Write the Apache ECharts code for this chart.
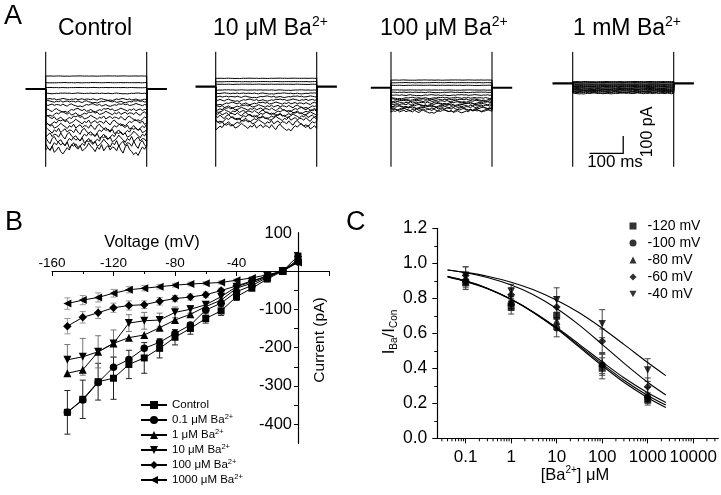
<!DOCTYPE html>
<html><head><meta charset="utf-8">
<script src="https://cdn.jsdelivr.net/npm/echarts@6/dist/echarts.min.js"></script>
<style>html,body{margin:0;padding:0;background:#fff}#c{width:721px;height:495px}</style>
</head><body><div id="c"></div>
<script>
// ===== Panel A: whole-cell current traces (pA) =====
const levelsControl = [74, 36, 8, -25, -59, -72, -91, -120, -140, -165, -190, -215, -240, -265, -290, -315, -340];
const levels10uM = [48, 29, 14, -19, -38, -57, -76, -95, -112, -128, -142, -156, -170, -185, -205, -228];
const levels100uM = [44, 29, 14, -13, -26, -42, -58, -67, -76, -85, -94, -102, -110, -118, -126, -134];
const levels1mM = [10, 6, 2, -4, -8, -13, -18, -22, -27, -31, -35, -39, -43, -47, -52, -57];
const traceWobble = [0.1,-0.3,0.4,-0.2,-0.6,0.2,0.5,-0.1,-0.4,-0.8,-0.5,-0.9,-0.3,0.2,-0.1,0.4,0.6,0.1,-0.2,0.3,-0.5,-0.2,0.2,-0.4,-0.7,-0.3,0.1,-0.2,0.5,0.3,0.6,0.1,0.4,-0.3,-0.1,0.2,0.7,0.3,0.0,-0.4,0.2,-0.1,0.5,-0.3,0.1,0.4,-0.2,0.2];
const noiseFraction = [0.13, 0.12, 0.1, 0.07];
const transientPeaks = [[213, -444], [200, -457], [206, -451], [181, -476]];
const pulseMs = [0, 300];
const holdMs = [-60, 360];
const scaleBar = [[50, -400], [150, -400], [150, -300]];

// ===== Panel B: I-V relationships =====
const voltage = [-150,-140,-130,-120,-110,-100,-90,-80,-70,-60,-50,-40,-30,-20,-10,0];
const iControl = [-369,-335,-289,-280,-244,-227,-202,-173,-150,-124,-104,-67,-45,-21,0,39];
const i01uM   = [-369,-337,-291,-251,-231,-202,-186,-163,-141,-102,-84,-54,-38,-17,0,24];
const i1uM    = [-267,-258,-211,-189,-174,-167,-148,-128,-113,-93,-76,-45,-32,-15,0,29];
const i10uM   = [-232,-224,-211,-189,-136,-130,-128,-108,-100,-88,-67,-41,-28,-13,0,29];
const i100uM  = [-144,-121,-109,-96,-90,-88,-79,-72,-68,-62,-51,-39,-26,-13,0,24];
const i1000uM = [-85,-76,-69,-58,-49,-45,-41,-37,-34,-32,-30,-24,-18,-10,0,22];
const errControl = [57,50,48,55,37,40,25,20,15,12,12,10,5,3,2,3];
const err10uM    = [40,48,42,35,22,22,18,14,10,8,6,5,4,3,2,2];
const err100uM   = [20,15,15,12,12,10,10,8,8,7,6,5,4,3,2,2];
const err1000uM  = [15,12,12,10,8,7,6,5,5,4,4,3,3,2,2,2];
const bYTopLabel = '100';

// ===== Panel C: concentration-response =====
const concBa = [0.1, 1, 10, 100, 1000];
const r120 = [0.89, 0.75, 0.70, 0.40, 0.22];
const r100 = [0.90, 0.77, 0.63, 0.42, 0.23];
const r80  = [0.91, 0.78, 0.67, 0.43, 0.25];
const r60  = [0.93, 0.82, 0.75, 0.555, 0.295];
const r40  = [0.93, 0.84, 0.79, 0.655, 0.39];
const e120 = [0.04, 0.04, 0.05, 0.06, 0.03];
const e100 = [0.04, 0.04, 0.05, 0.06, 0.03];
const e80  = [0.04, 0.04, 0.05, 0.06, 0.04];
const e60  = [0.05, 0.04, 0.06, 0.07, 0.05];
const e40  = [0.05, 0.04, 0.07, 0.08, 0.065];
const fitConc = [0.04, 0.1, 0.3, 1, 3, 10, 30, 100, 300, 1000, 2500];
const fit120 = [0.926, 0.900, 0.858, 0.795, 0.720, 0.625, 0.525, 0.415, 0.320, 0.232, 0.176];
const fit100 = [0.924, 0.898, 0.856, 0.794, 0.722, 0.628, 0.532, 0.425, 0.332, 0.245, 0.190];
const fit80  = [0.922, 0.896, 0.854, 0.793, 0.724, 0.633, 0.541, 0.437, 0.346, 0.260, 0.205];
const fit60  = [0.962, 0.946, 0.919, 0.876, 0.822, 0.742, 0.651, 0.537, 0.430, 0.320, 0.247];
const fit40  = [0.962, 0.948, 0.926, 0.892, 0.850, 0.789, 0.720, 0.629, 0.537, 0.433, 0.358];
const cLabels = ['-120 mV', '-100 mV', '-80 mV', '-60 mV', '-40 mV'];

const FF = '"Liberation Sans", Arial, Helvetica, sans-serif';
const zip = (a, b) => a.map((v, i) => [v, b[i]]);
const zip3 = (a, b, c) => a.map((v, i) => [v, b[i], c[i]]);

function buildTraces(levels, frac, shift) {
  const out = [];
  const n = traceWobble.length;
  levels.forEach((lv, i) => {
    const amp = lv < 0 ? Math.abs(lv) * frac : 1.2;
    const pts = [[0, 0]];
    for (let j = 0; j < n; j++) {
      const t = pulseMs[0] + j * (pulseMs[1] - pulseMs[0]) / (n - 1);
      pts.push([t, lv + amp * traceWobble[(j + shift * i) % n]]);
    }
    pts.push([pulseMs[1], 0]);
    out.push({coords: pts});
  });
  return out;
}

const allLevels = [levelsControl, levels10uM, levels100uM, levels1mM];
const gridsA = [25.5, 195.5, 370.8, 552.5].map(l => ({left: l, top: 51.7, width: 141.4, height: 115}));

const grids = [...gridsA,
  {left: 52, top: 232.7, width: 276.75, height: 210.65},
  {left: 437.3, top: 228.3, width: 281, height: 210}
];
const xAxes = [], yAxes = [], series = [];
allLevels.forEach((lv, k) => {
  xAxes.push({gridIndex: k, type: 'value', min: holdMs[0], max: holdMs[1], show: false});
  yAxes.push({gridIndex: k, type: 'value', min: transientPeaks[k][1], max: transientPeaks[k][0], show: false});
  series.push({type: 'lines', coordinateSystem: 'cartesian2d', xAxisIndex: k, yAxisIndex: k, polyline: true, silent: true,
    lineStyle: {color: '#000', width: 1, opacity: 1}, data: buildTraces(lv, noiseFraction[k], 7 + k)});
  series.push({type: 'lines', coordinateSystem: 'cartesian2d', xAxisIndex: k, yAxisIndex: k, polyline: true, silent: true,
    lineStyle: {color: '#000', width: 2.2, opacity: 1},
    data: [{coords: [[holdMs[0], 0], [pulseMs[0], 0]]}, {coords: [[pulseMs[1], 0], [holdMs[1], 0]]}]});
  series.push({type: 'lines', coordinateSystem: 'cartesian2d', xAxisIndex: k, yAxisIndex: k, polyline: true, silent: true,
    lineStyle: {color: '#000', width: 1.1, opacity: 1},
    data: [{coords: [[pulseMs[0], transientPeaks[k][0]], [pulseMs[0], transientPeaks[k][1]]]},
           {coords: [[pulseMs[1], transientPeaks[k][0]], [pulseMs[1], transientPeaks[k][1]]]}]});
});
series.push({type: 'lines', coordinateSystem: 'cartesian2d', xAxisIndex: 3, yAxisIndex: 3, polyline: true, silent: true,
  lineStyle: {color: '#000', width: 1.3, opacity: 1}, data: [{coords: scaleBar}]});

// Panel B axes (x crosses at I = 0, y crosses at V = 0)
xAxes.push({gridIndex: 4, type: 'value', min: -160, max: 20, interval: 40, position: 'top', offset: -38.3,
  axisLine: {onZero: false, lineStyle: {color: '#000', width: 1.2}},
  axisTick: {inside: true, length: 5, lineStyle: {color: '#000'}},
  minorTick: {show: true, splitNumber: 2, length: 3, lineStyle: {color: '#000'}},
  splitLine: {show: false},
  axisLabel: {color: '#000', fontFamily: FF, fontSize: 13.5, margin: 1, showMaxLabel: false,
    formatter: v => (v < 0 ? String(v) : '')}});
yAxes.push({gridIndex: 4, type: 'value', min: -450, max: 100, interval: 50, position: 'left', offset: -246,
  axisLine: {onZero: false, lineStyle: {color: '#000', width: 1.2}},
  axisTick: {length: 4, lineStyle: {color: '#000'}},
  splitLine: {show: false},
  axisLabel: {color: '#000', fontFamily: FF, fontSize: 16.5, margin: 6, showMinLabel: false, showMaxLabel: false,
    formatter: v => (v < 0 && v % 100 === 0 ? String(v) : '')}});

// Panel C axes
const logMin = 0.0238, logMax = 35600;
xAxes.push({gridIndex: 5, type: 'log', logBase: 10, min: logMin, max: logMax,
  axisLine: {onZero: false, lineStyle: {color: '#000', width: 1.2}},
  axisTick: {length: 5, lineStyle: {color: '#000'}},
  splitLine: {show: false},
  axisLabel: {color: '#000', fontFamily: FF, fontSize: 17, margin: 11, showMinLabel: false, showMaxLabel: false,
    formatter: v => {
      const l = Math.log10(v), r = Math.round(l);
      if (Math.abs(l - r) > 1e-4) return '';
      return r < 0 ? Math.pow(10, r).toFixed(-r) : String(Math.round(Math.pow(10, r)));
    }}});
yAxes.push({gridIndex: 5, type: 'value', min: 0, max: 1.2, interval: 0.2,
  axisLine: {onZero: false, lineStyle: {color: '#000', width: 1.2}},
  axisTick: {length: 5, lineStyle: {color: '#000'}},
  minorTick: {show: true, splitNumber: 2, length: 3, lineStyle: {color: '#000'}},
  splitLine: {show: false},
  axisLabel: {color: '#000', fontFamily: FF, fontSize: 17.5, margin: 10, formatter: v => v.toFixed(1)}});

function errRender(capW) {
  return function (params, api) {
    const x = api.value(0), y = api.value(1), e = api.value(2);
    const p1 = api.coord([x, y + e]), p2 = api.coord([x, y - e]);
    const style = {stroke: api.visual('color'), lineWidth: 1};
    return {type: 'group', children: [
      {type: 'line', shape: {x1: p1[0], y1: p1[1], x2: p2[0], y2: p2[1]}, style},
      {type: 'line', shape: {x1: p1[0] - capW, y1: p1[1], x2: p1[0] + capW, y2: p1[1]}, style},
      {type: 'line', shape: {x1: p2[0] - capW, y1: p2[1], x2: p2[0] + capW, y2: p2[1]}, style}
    ]};
  };
}

// Panel B series
const bSeries = [
  ['Control', iControl, 'rect', 0, 7],
  ['0.1 μM Ba2+', i01uM, 'circle', 0, 7.5],
  ['1 μM Ba2+', i1uM, 'triangle', 0, 8],
  ['10 μM Ba2+', i10uM, 'triangle', 180, 8],
  ['100 μM Ba2+', i100uM, 'diamond', 0, 8.5],
  ['1000 μM Ba2+', i1000uM, 'triangle', 90, 8]
];
[[iControl, errControl, '#222'], [i10uM, err10uM, '#777'], [i100uM, err100uM, '#999'], [i1000uM, err1000uM, '#999']].forEach(([v, e, col]) => {
  series.push({type: 'custom', xAxisIndex: 4, yAxisIndex: 4, renderItem: errRender(3), silent: true, z: 1,
    itemStyle: {color: col}, encode: {x: 0, y: 1}, data: zip3(voltage, v, e)});
});
bSeries.forEach(([name, vals, sym, rot, size]) => {
  series.push({type: 'line', name, xAxisIndex: 4, yAxisIndex: 4, data: zip(voltage, vals),
    symbol: sym, symbolRotate: rot, symbolSize: size, showSymbol: true, z: 3,
    lineStyle: {color: '#000', width: 1}, itemStyle: {color: '#000'}});
});

// Panel C series
const cData = [[r120, e120, 'rect', 0, 7], [r100, e100, 'circle', 0, 7], [r80, e80, 'triangle', 0, 7.5], [r60, e60, 'diamond', 0, 8], [r40, e40, 'triangle', 180, 7.5]];
const cFits = [fit120, fit100, fit80, fit60, fit40];
cData.forEach(([v, e]) => {
  series.push({type: 'custom', xAxisIndex: 5, yAxisIndex: 5, renderItem: errRender(3), silent: true, z: 1,
    itemStyle: {color: '#444'}, encode: {x: 0, y: 1}, data: zip3(concBa, v, e)});
});
cFits.forEach(f => {
  series.push({type: 'line', xAxisIndex: 5, yAxisIndex: 5, data: zip(fitConc, f), showSymbol: false, symbol: 'none',
    smooth: 0.3, lineStyle: {color: '#000', width: 1.1}, z: 2, silent: true});
});
cData.forEach(([v, e, sym, rot, size], i) => {
  series.push({type: 'scatter', name: cLabels[i], xAxisIndex: 5, yAxisIndex: 5, data: zip(concBa, v),
    symbol: sym, symbolRotate: rot, symbolSize: size, itemStyle: {color: '#000'}, z: 3});
});
// log minor ticks on C x-axis
const minorTickVals = [];
for (let k = -2; k <= 4; k++) for (let m = 2; m <= 9; m++) {
  const v = m * Math.pow(10, k);
  if (v > logMin && v < logMax) minorTickVals.push([v, 0]);
}
series.push({type: 'custom', xAxisIndex: 5, yAxisIndex: 5, silent: true, clip: false, data: minorTickVals,
  encode: {x: 0, y: 1},
  renderItem: (p, api) => {
    const c = api.coord([api.value(0), 0]);
    return {type: 'line', shape: {x1: c[0], y1: c[1], x2: c[0], y2: c[1] + 3}, style: {stroke: '#000', lineWidth: 1}};
  }});

const supRich = (fs, sfs) => ({
  n: {fontSize: fs, fontFamily: FF, color: '#000', lineHeight: Math.round(fs * 1.2)},
  s: {fontSize: sfs, fontFamily: FF, color: '#000', verticalAlign: 'top', lineHeight: sfs + 1},
  b: {fontSize: sfs, fontFamily: FF, color: '#000', verticalAlign: 'bottom', lineHeight: sfs + 1}
});

const txt = (x, y, text, rich, extra) => Object.assign({type: 'text', x, y,
  style: {text, rich, fill: '#000', align: 'left', verticalAlign: 'middle'}}, extra || {});

const graphic = [
  {type: 'text', x: 4, y: 17, style: {text: 'A', font: '27px ' + FF, fill: '#000', verticalAlign: 'middle'}},
  {type: 'text', x: 5, y: 223, style: {text: 'B', font: '27px ' + FF, fill: '#000', verticalAlign: 'middle'}},
  {type: 'text', x: 346, y: 223, style: {text: 'C', font: '27px ' + FF, fill: '#000', verticalAlign: 'middle'}},
  txt(58, 29, '{n|Control}', supRich(23, 14)),
  txt(213, 29, '{n|10 μM Ba}{s|2+}', supRich(23, 14)),
  txt(380, 29, '{n|100 μM Ba}{s|2+}', supRich(23, 14)),
  txt(573, 29, '{n|1 mM Ba}{s|2+}', supRich(23, 14)),
  {type: 'text', x: 615, y: 162, style: {text: '100 ms', font: '17px ' + FF, fill: '#000', align: 'center', verticalAlign: 'middle'}},
  {type: 'text', x: 648, y: 132, rotation: Math.PI / 2, style: {text: '100 pA', font: '16px ' + FF, fill: '#000', align: 'center', verticalAlign: 'middle'}},
  {type: 'text', x: 292, y: 233, style: {text: bYTopLabel, font: '16.5px ' + FF, fill: '#000', align: 'right', verticalAlign: 'middle'}},
  {type: 'text', x: 152, y: 242, style: {text: 'Voltage (mV)', font: '16.5px ' + FF, fill: '#000', align: 'center', verticalAlign: 'middle'}},
  {type: 'text', x: 320, y: 340, rotation: Math.PI / 2, style: {text: 'Current (pA)', font: '15.5px ' + FF, fill: '#000', align: 'center', verticalAlign: 'middle'}},
  {type: 'text', x: 575, y: 475, style: {text: '{n|[Ba}{s|2+}{n|] μM}', rich: supRich(16.5, 10), align: 'center', verticalAlign: 'middle'}},
  {type: 'text', x: 389, y: 332, rotation: Math.PI / 2, style: {text: '{n|I}{b|Ba}{n|/I}{b|Con}', rich: supRich(17, 10), align: 'center', verticalAlign: 'middle'}}
];

const cLegendData = cLabels.map((n, i) => i === 4 ? {name: n, icon: 'path://M0,0L10,0L5,9Z'} : {name: n});

const chart = echarts.init(document.getElementById('c'), null, {renderer: 'canvas'});
chart.setOption({
  animation: false,
  backgroundColor: '#fff',
  grid: grids,
  xAxis: xAxes,
  yAxis: yAxes,
  legend: [
    {data: bSeries.map(s => s[0]), orient: 'vertical', left: 140, top: 399, padding: 0, itemWidth: 26, itemHeight: 10, itemGap: 2,
      selectedMode: false,
      formatter: n => n === 'Control' ? '{n|Control}' : '{n|' + n.replace('2+', '') + '}{s|2+}',
      textStyle: {color: '#000', fontFamily: FF, fontSize: 11.5, rich: supRich(11.5, 7.5)}},
    {data: cLegendData, orient: 'vertical', left: 629.5, top: 218, padding: 0, itemWidth: 7, itemHeight: 7, itemGap: 1, selectedMode: false,
      textStyle: {color: '#000', fontFamily: FF, fontSize: 14, lineHeight: 16, padding: [0, 0, 0, 6]}}
  ],
  graphic,
  series
});
</script></body></html>
